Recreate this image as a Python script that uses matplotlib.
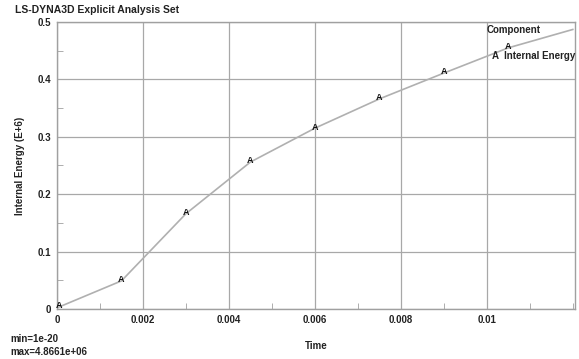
import matplotlib
matplotlib.use("Agg")
import matplotlib.pyplot as plt
from matplotlib.ticker import MultipleLocator

# line samples (time, internal energy E+6)
time = [0.0, 0.0015, 0.003, 0.0045, 0.006, 0.0075, 0.009, 0.0105, 0.012]
energy = [0.002, 0.049, 0.166, 0.256, 0.315, 0.366, 0.411, 0.455, 0.487]
# marker points labelled "A"
mark_t = [0.00005, 0.0015, 0.003, 0.0045, 0.006, 0.0075, 0.009, 0.0105]
mark_e = [0.006, 0.051, 0.168, 0.258, 0.317, 0.368, 0.413, 0.457]

xticks = [0, 0.002, 0.004, 0.006, 0.008, 0.01]
xticklabels = ["0", "0.002", "0.004", "0.006", "0.008", "0.01"]
yticks = [0, 0.1, 0.2, 0.3, 0.4, 0.5]
yticklabels = ["0", "0.1", "0.2", "0.3", "0.4", "0.5"]

plt.rcParams['font.family'] = ['Liberation Sans', 'DejaVu Sans']
plt.rcParams['font.weight'] = 'bold'

fig = plt.figure(figsize=(5.79, 3.59), dpi=100)
ax = fig.add_axes([0.0984, 0.1393, 0.8946, 0.7994])
ax.set_xlim(0, 0.01205)
ax.set_ylim(0, 0.5)

ax.plot(time, energy, color='#b0b0b0', lw=1.2, zorder=2)
for t, e in zip(mark_t, mark_e):
    ax.text(t, e, "A", fontsize=6.5, fontweight='bold', ha='center', va='center', color='#111111', zorder=3)

ax.set_xticks(xticks)
ax.set_xticklabels(xticklabels)
ax.set_yticks(yticks)
ax.set_yticklabels(yticklabels)
ax.xaxis.set_minor_locator(MultipleLocator(0.001))
ax.yaxis.set_minor_locator(MultipleLocator(0.05))
ax.grid(True, which='major', color='#a8a8a8', lw=0.9)
ax.tick_params(which='both', direction='in', colors='#a0a0a0', labelcolor='#222222', labelsize=7)
ax.tick_params(which='major', length=0, pad=4)
ax.tick_params(which='minor', length=4)
for s in ax.spines.values():
    s.set_color('#a0a0a0')
    s.set_linewidth(1.0)

ax.set_xlabel("Time", fontsize=7, fontweight='bold', color='#222222', labelpad=12)
ax.set_ylabel("Internal Energy (E+6)", fontsize=7, fontweight='bold', color='#222222', labelpad=9)

fig.text(15/579, 1 - 10/359, "LS-DYNA3D Explicit Analysis Set", fontsize=7.5, fontweight='bold', va='center', color='#222222')
fig.text(10/579, 1 - 339/359, "min=1e-20", fontsize=7, fontweight='bold', va='center', color='#222222')
fig.text(10/579, 1 - 352/359, "max=4.8661e+06", fontsize=7, fontweight='bold', va='center', color='#222222')
fig.text(487/579, 1 - 30/359, "Component", fontsize=7, fontweight='bold', va='center', color='#222222')
fig.text(492/579, 1 - 56/359, "A  Internal Energy", fontsize=7, fontweight='bold', va='center', color='#222222')

fig.savefig("out.png", dpi=100)
